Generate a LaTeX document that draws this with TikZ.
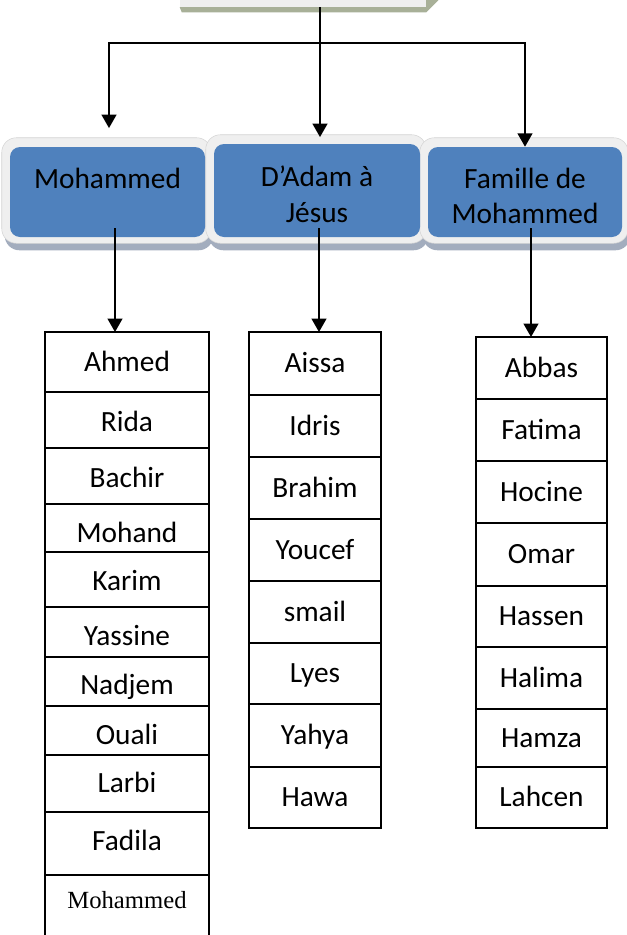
\documentclass[tikz,border=0pt]{standalone}
\usepackage{fontspec}
\usetikzlibrary{arrows.meta,positioning,backgrounds}
\newfontfamily\calibri{Carlito}
\newfontfamily\cambria{Liberation Serif}
\tikzset{>/.tip={Triangle[length=10pt,width=11pt]}}
\definecolor{boxblue}{HTML}{4F81BD}
\definecolor{framefill}{HTML}{EFEFEF}
\definecolor{frameedge}{HTML}{D4D4D4}
\definecolor{frameshade}{HTML}{A3ADBE}
\definecolor{rootfill}{HTML}{EFEFEF}
\definecolor{rootshade}{HTML}{A8B098}
\newdimen\pxu \pxu=0.75pt

\begin{document}
\begin{tikzpicture}[x=0.75pt,y=-0.75pt,
    every node/.style={font=\calibri\fontsize{22}{26.5}\selectfont},
    topic/.style={fill=boxblue,rounded corners=7.5pt,align=center,inner sep=0pt},
    cell/.style={draw,line width=1.2pt,inner sep=0pt,outer sep=0pt,text height=14pt,text depth=0pt},
    link/.style={->,line width=1.5pt}]
  \useasboundingbox (0,0) rectangle (627,935);

  % top of the tree
  \node[fill=rootfill,minimum width=184.5pt,minimum height=28.5pt,inner sep=0pt] (root) at (303,-12) {};
  \node[topic,minimum width=146.25pt,minimum height=67.5pt] (moh) at (107.5,192) {\rule{0pt}{21pt}Mohammed\\\mbox{}};
  \node[topic,minimum width=154.5pt,minimum height=69.75pt] (adam) at (317,190.5) {\rule{0pt}{21pt}D’Adam à\\Jésus};
  \node[topic,minimum width=145.5pt,minimum height=67.5pt] (fam) at (525,192) {\rule{0pt}{21pt}Famille de\\Mohammed};

  \begin{scope}[on background layer]
    \fill[rootshade] (root.south west) -- ++(2,5) -- ([shift={(0,5)}]root.south east)
      -- ([shift={(12,-7)}]root.south east) -- ([shift={(12,0)}]root.north east) -- (root.north east) -- cycle;
    \foreach \n in {moh,adam,fam}
      \fill[frameshade,rounded corners=11pt] ([shift={(-5,-3)}]\n.north west) rectangle ([shift={(8,13)}]\n.south east);
    \foreach \n in {moh,adam,fam}
      \filldraw[fill=framefill,draw=frameedge,rounded corners=11pt] ([shift={(-8,-9)}]\n.north west) rectangle ([shift={(6,6)}]\n.south east);
  \end{scope}

  % lists
  \node[cell,minimum width=123pt,minimum height=45pt] (l1) at (127,362) {Ahmed};
  \foreach \i/\h/\d/\t [remember=\i as \j (initially 1)] in {2/56/2/Rida,3/56/2/Bachir,4/48/5/Mohand,
      5/55/1.5/Karim,6/50/4.5/Yassine,7/49/4/Nadjem,8/49/4.5/Ouali,9/57/0/Larbi,10/63/-2/Fadila}
    \node[cell,minimum width=123pt,minimum height=\h*0.75pt,below=0pt of l\j] (l\i) {\raisebox{-\d\pxu}{\t}};
  \node[cell,minimum width=123pt,minimum height=54pt,below=0pt of l10,
    font=\cambria\fontsize{18.5}{22}\selectfont,text height=12.2pt] (l11) {\raisebox{8.25pt}{Mohammed}};

  \node[cell,minimum width=99pt,minimum height=47.25pt] (m1) at (315,363.5) {Aissa};
  \foreach \i/\h/\t [remember=\i as \j (initially 1)] in {2/62/Idris,3/62/Brahim,4/62/Youcef,
      5/62/smail,6/61/Lyes,7/63/Yahya,8/61/Hawa}
    \node[cell,minimum width=99pt,minimum height=\h*0.75pt,below=0pt of m\j] (m\i) {\t};

  \node[cell,minimum width=98.25pt,minimum height=46.5pt] (r1) at (541.5,368) {Abbas};
  \foreach \i/\h/\t [remember=\i as \j (initially 1)] in {2/62/Fatima,3/62/Hocine,4/63/Omar,
      5/61/Hassen,6/62/Halima,7/58/Hamza,8/61/Lahcen}
    \node[cell,minimum width=98.25pt,minimum height=\h*0.75pt,below=0pt of r\j] (r\i) {\t};

  % connectors
  \coordinate (split) at (320,43);
  \draw[link,shorten >=5pt] (root.south -| split) -- (split |- adam.north);
  \draw[link,shorten >=14pt] (split) -| ([shift={(1.5,0)}]moh.north);
  \draw[link] (split) -| (fam.north);

  \coordinate (d1) at (115,228);
  \coordinate (d2) at (319,228);
  \coordinate (d3) at (531,228);
  \draw[link] (d1) -- (d1 |- l1.north);
  \draw[link] (d2) -- (d2 |- m1.north);
  \draw[link] (d3) -- (d3 |- r1.north);
\end{tikzpicture}
\end{document}
